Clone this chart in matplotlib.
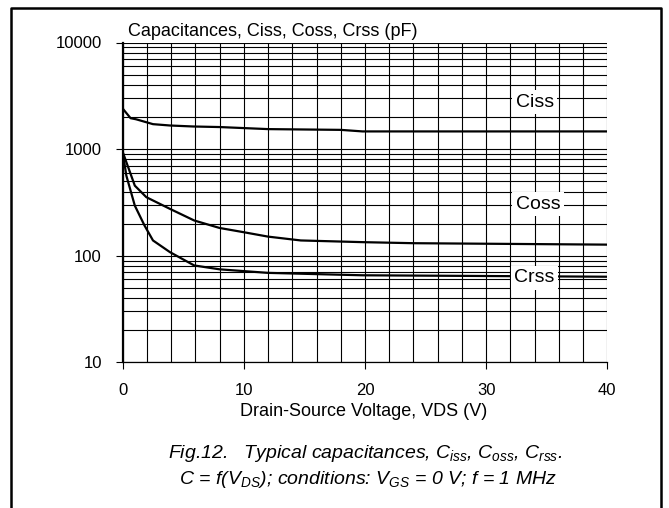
import matplotlib
matplotlib.use("Agg")
import matplotlib.pyplot as plt
from matplotlib.lines import Line2D
from matplotlib.ticker import MultipleLocator, FixedLocator, NullFormatter

# datos (V, pF)
vds_ciss = [0, 0.65, 1.1, 2.5, 3.9, 5.8, 8, 12, 18, 19.8, 40]
ciss = [2400, 1950, 1905, 1714, 1665, 1630, 1610, 1540, 1515, 1465, 1465]

vds_coss = [0, 1.0, 1.95, 3.9, 5.9, 8, 10, 12, 14.7, 19.8, 24, 40]
coss = [940, 454, 354, 275, 214, 182, 166, 151, 139, 134, 131, 127]

vds_crss = [0, 0.3, 1.0, 1.8, 2.5, 3.9, 5.9, 8, 12, 19.8, 40]
crss = [940, 564, 295, 192, 139, 108, 81, 74.5, 69, 65.5, 63.5]

curve_names = ["Ciss", "Coss", "Crss"]
label_pos = [(34.0, 2760), (34.3, 305), (34.0, 62.4)]

x_ticks = [0, 10, 20, 30, 40]
y_ticks = [10, 100, 1000, 10000]
y_tick_labels = ["10", "100", "1000", "10000"]

plt.rcParams["font.family"] = ["Liberation Sans", "DejaVu Sans"]
plt.rcParams["mathtext.fontset"] = "custom"
plt.rcParams["mathtext.rm"] = "Liberation Sans:italic"
plt.rcParams["mathtext.it"] = "Liberation Sans:italic"

fig = plt.figure(figsize=(6.69, 5.08), dpi=100)
W, H = 669, 508
ax = fig.add_axes([122.7 / W, 1 - 362.3 / H, 484.6 / W, 319.8 / H])

ax.plot(vds_ciss, ciss, color="black", lw=1.6)
ax.plot(vds_coss, coss, color="black", lw=1.6)
ax.plot(vds_crss, crss, color="black", lw=1.6)

ax.set_yscale("log")
ax.set_xlim(0, 40)
ax.set_ylim(10, 10000)

ax.xaxis.set_major_locator(FixedLocator(x_ticks))
ax.xaxis.set_minor_locator(MultipleLocator(2))
ax.yaxis.set_major_locator(FixedLocator(y_ticks))
ax.set_yticklabels(y_tick_labels)
ax.yaxis.set_minor_formatter(NullFormatter())
ax.tick_params(which="major", direction="out", length=5, width=0.8,
               labelsize=12)
ax.tick_params(axis="y", pad=10)
ax.tick_params(axis="x", pad=10)
ax.tick_params(which="minor", length=0)
ax.grid(True, which="both", color="black", lw=0.8)

for s in ["top", "right"]:
    ax.spines[s].set_visible(False)
ax.spines["left"].set_linewidth(1.6)
ax.spines["bottom"].set_linewidth(0.9)

for name, (x, y) in zip(curve_names, label_pos):
    ax.text(x, y, name, ha="center", va="center", fontsize=14,
            bbox=dict(facecolor="white", edgecolor="none", pad=2.5))

fig.text(128 / W, 1 - 31 / H, "Capacitances, Ciss, Coss, Crss (pF)",
         ha="left", va="center", fontsize=13)
fig.text(364 / W, 1 - 411 / H, "Drain-Source Voltage, VDS (V)",
         ha="center", va="center", fontsize=13)

fig.text(365 / W, 1 - 453 / H,
         "Fig.12.   Typical capacitances, $C_{iss}$, $C_{oss}$, $C_{rss}$.",
         ha="center", va="center", fontsize=14, style="italic")
fig.text(368 / W, 1 - 479 / H,
         "C = f($V_{DS}$); conditions: $V_{GS}$ = 0 V; f = 1 MHz",
         ha="center", va="center", fontsize=14, style="italic")

# marco exterior (sin borde inferior)
frame = Line2D([11 / W, 11 / W, 661 / W, 661 / W], [-0.02, 1 - 8 / H, 1 - 8 / H, -0.02],
               transform=fig.transFigure, color="black", lw=1.8)
fig.add_artist(frame)

fig.savefig("out.png", dpi=100)
